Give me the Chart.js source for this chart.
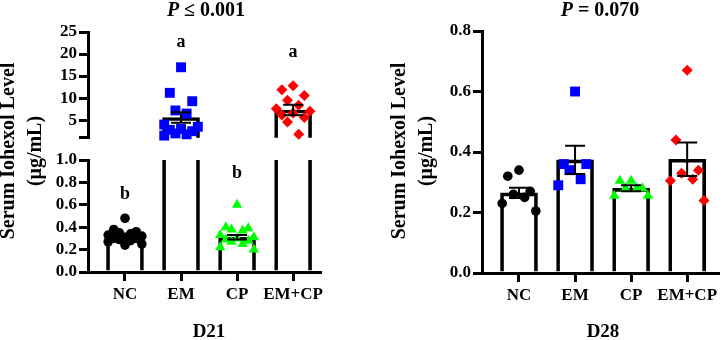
<!DOCTYPE html>
<html>
<head>
<meta charset="utf-8">
<script src="https://cdn.jsdelivr.net/npm/chart.js@4.4.0/dist/chart.umd.min.js"></script>
<style>
body { margin: 0; background: #fff; }
#wrap { position: relative; width: 726px; height: 340px; }
canvas { position: absolute; top: 0; }
</style>
</head>
<body>
<div id="wrap">
  <canvas id="d21Bottom" width="360" height="340" style="left:0"></canvas>
  <canvas id="d21Top" width="360" height="150" style="left:0"></canvas>
  <canvas id="d28" width="366" height="340" style="left:360px"></canvas>
</div>
<script>
const groups = ["NC", "EM", "CP", "EM+CP"];
const groupColors = ["#000000", "#0000ff", "#00ff00", "#ff0000"];
const groupShapes = ["circle", "rect", "triangle", "rectRot"];
const groupRadius = [4.8, 7, 6, 5.5];

// D21 serum iohexol (µg/mL), one value per animal
const d21NC = [0.48, 0.38, 0.36, 0.35, 0.34, 0.33, 0.32, 0.31, 0.30, 0.30, 0.29, 0.28, 0.27, 0.25, 0.24];
const d21EM = [17.0, 11.2, 9.3, 7.2, 6.5, 4.0, 3.5, 3.0, 2.8, 2.5, 2.0, 1.8, 1.5];
const d21CP = [0.60, 0.40, 0.39, 0.38, 0.37, 0.33, 0.31, 0.30, 0.29, 0.28, 0.27, 0.25, 0.22, 0.20];
const d21EMCP = [12.8, 11.9, 10.6, 9.5, 8.4, 7.6, 7.0, 6.6, 6.2, 5.6, 4.6, 1.8];
const d21Means = [0.32, 5.6, 0.31, 7.3];
const d21Sem = [0.015, 1.2, 0.02, 1.2];
const d21Letters = ["b", "a", "b", "a"];
const d21LetterY = [0.69, 22.7, 0.88, 20.3];
const d21TopTicks = [1, 5, 10, 15, 20, 25];
const d21BottomTicks = [0, 0.2, 0.4, 0.6, 0.8, 1.0];

// D28
const d28NC = [0.34, 0.32, 0.27, 0.26, 0.25, 0.23, 0.205];
const d28EM = [0.60, 0.36, 0.36, 0.34, 0.31, 0.29];
const d28CP = [0.305, 0.305, 0.28, 0.28, 0.28, 0.255, 0.255];
const d28EMCP = [0.67, 0.44, 0.34, 0.33, 0.31, 0.305, 0.24];
const d28Means = [0.265, 0.374, 0.28, 0.376];
const d28Sem = [0.017, 0.047, 0.01, 0.055];
const d28Ticks = [0, 0.2, 0.4, 0.6, 0.8];

const serif = "'Liberation Serif', 'Times New Roman', serif";

// side-by-side layout of the dots inside a bar, biggest value in the middle
function spread(values, groupIndex, width) {
    const pattern = [0, -1, 1, -0.5, 0.5, -1.5, 1.5];
    return values.slice().sort((a, b) => b - a)
        .map((v, i) => ({ x: groupIndex + pattern[i % pattern.length] * width, y: v }));
}

function pointSets(series, keep) {
    return series.map((values, i) => ({
        type: "scatter",
        data: spread(values, i, 0.2).filter(p => keep(p.y)),
        pointStyle: groupShapes[i],
        pointRadius: groupRadius[i],
        backgroundColor: groupColors[i],
        borderColor: groupColors[i],
        borderWidth: 0,
        clip: false,
        order: 1
    }));
}

function barSet(means) {
    return {
        type: "bar",
        data: means.map((m, i) => ({ x: i, y: m })),
        backgroundColor: "rgba(0,0,0,0)",
        borderColor: "#000",
        borderWidth: 3,
        barThickness: 37,
        clip: 0,
        order: 2
    };
}

const errorBars = {
    id: "errorBars",
    afterDatasetsDraw(chart, args, opts) {
        const { ctx, chartArea: a, scales: { x, y } } = chart;
        ctx.save();
        ctx.beginPath();
        ctx.rect(a.left, a.top, a.right - a.left, a.bottom - a.top);
        ctx.clip();
        ctx.strokeStyle = "#000";
        ctx.lineWidth = 2;
        opts.means.forEach((m, i) => {
            const px = x.getPixelForValue(i);
            const hi = y.getPixelForValue(m + opts.sem[i]);
            const lo = y.getPixelForValue(m - opts.sem[i]);
            ctx.beginPath();
            ctx.moveTo(px, lo); ctx.lineTo(px, hi);
            ctx.moveTo(px - 10, hi); ctx.lineTo(px + 10, hi);
            ctx.moveTo(px - 10, lo); ctx.lineTo(px + 10, lo);
            ctx.stroke();
        });
        ctx.restore();

        if (!opts.letters) return;
        ctx.save();
        ctx.fillStyle = "#000";
        ctx.font = "bold 18px " + serif;
        ctx.textAlign = "center";
        ctx.textBaseline = "middle";
        opts.letters.forEach((t, i) => {
            const v = opts.letterY[i];
            if (v < y.min || v > y.max) return;
            ctx.fillText(t, x.getPixelForValue(i), y.getPixelForValue(v));
        });
        ctx.restore();
    }
};

// titles and axis captions
const panelText = {
    id: "panelText",
    afterDraw(chart, args, opts) {
        const ctx = chart.ctx;
        (opts.items || []).forEach(item => {
            ctx.save();
            ctx.translate(item.x, item.y);
            if (item.rotate) ctx.rotate(-Math.PI / 2);
            ctx.fillStyle = "#000";
            ctx.textBaseline = "middle";
            const fonts = item.parts.map(p => (p.italic ? "italic " : "") + "bold " + item.size + "px " + serif);
            let total = 0;
            item.parts.forEach((p, i) => { ctx.font = fonts[i]; total += ctx.measureText(p.text).width; });
            let cx = -total / 2;
            item.parts.forEach((p, i) => {
                ctx.font = fonts[i];
                ctx.textAlign = "left";
                ctx.fillText(p.text, cx, 0);
                cx += ctx.measureText(p.text).width;
            });
            ctx.restore();
        });
    }
};

function axes(o) {
    const line = { drawOnChartArea: false, tickLength: 9, lineWidth: 3, color: "#000", offset: false };
    return {
        x: {
            type: "linear",
            offset: false,
            min: o.xMin,
            max: o.xMax,
            display: o.showX,
            afterBuildTicks: s => { s.ticks = groups.map((g, i) => ({ value: i })); },
            afterFit: s => { s.height = o.xHeight; },
            ticks: {
                callback: v => groups[v],
                color: "#000",
                font: { family: serif, size: 17, weight: "bold" },
                padding: 3,
                maxRotation: 0,
                autoSkip: false
            },
            grid: line,
            border: { color: "#000", width: 3 }
        },
        y: {
            type: "linear",
            min: o.yMin,
            max: o.yMax,
            afterBuildTicks: s => { s.ticks = o.yTicks.map(v => ({ value: v })); },
            afterFit: s => { s.width = o.yWidth; },
            ticks: {
                callback: o.fmt,
                color: "#000",
                font: { family: serif, size: 17, weight: "bold" },
                padding: 2,
                autoSkip: false
            },
            grid: line,
            border: { color: "#000", width: 3 }
        }
    };
}

const baseOptions = {
    responsive: false,
    animation: false,
    events: []
};

const d21Series = [d21NC, d21EM, d21CP, d21EMCP];
const d28Series = [d28NC, d28EM, d28CP, d28EMCP];
const yTitle = (x) => [
    { x: x, y: 151, size: 20, rotate: true, parts: [{ text: "Serum Iohexol Level" }] },
    { x: x + 27, y: 151, size: 20, rotate: true, parts: [{ text: "(μg/mL)" }] }
];

// D21 lower segment, 0 - 1
new Chart(document.getElementById("d21Bottom"), {
    data: { datasets: [barSet(d21Means), ...pointSets(d21Series, v => v <= 1)] },
    options: {
        ...baseOptions,
        layout: { padding: { top: 160, right: 40, bottom: 0, left: 0 } },
        scales: axes({
            xMin: -0.66, xMax: 3.48, showX: true, xHeight: 68,
            yMin: 0, yMax: 1, yTicks: d21BottomTicks, yWidth: 88, fmt: v => v.toFixed(1)
        }),
        plugins: {
            legend: { display: false },
            tooltip: { enabled: false },
            errorBars: { means: d21Means, sem: d21Sem, letters: d21Letters, letterY: d21LetterY },
            panelText: { items: [...yTitle(9), { x: 209, y: 332, size: 19, parts: [{ text: "D21" }] }] }
        }
    },
    plugins: [errorBars, panelText]
});

// D21 upper segment, 1 - 25
new Chart(document.getElementById("d21Top"), {
    data: { datasets: [barSet(d21Means), ...pointSets(d21Series, v => v > 1)] },
    options: {
        ...baseOptions,
        layout: { padding: { top: 32, right: 40, bottom: 8, left: 0 } },
        scales: axes({
            xMin: -0.66, xMax: 3.48, showX: false, xHeight: 0,
            yMin: 1, yMax: 25, yTicks: d21TopTicks, yWidth: 88, fmt: v => (v === 1 ? "" : v)
        }),
        plugins: {
            legend: { display: false },
            tooltip: { enabled: false },
            errorBars: { means: d21Means, sem: d21Sem, letters: d21Letters, letterY: d21LetterY },
            panelText: { items: [{ x: 206, y: 11, size: 20, parts: [{ text: "P", italic: true }, { text: " ≤ 0.001" }] }] }
        }
    },
    plugins: [errorBars, panelText]
});

// D28
new Chart(document.getElementById("d28"), {
    data: { datasets: [barSet(d28Means), ...pointSets(d28Series, v => true)] },
    options: {
        ...baseOptions,
        layout: { padding: { top: 31, right: 8, bottom: 0, left: 0 } },
        scales: axes({
            xMin: -0.66, xMax: 3.55, showX: true, xHeight: 67,
            yMin: 0, yMax: 0.8, yTicks: d28Ticks, yWidth: 122, fmt: v => v.toFixed(1)
        }),
        plugins: {
            legend: { display: false },
            tooltip: { enabled: false },
            errorBars: { means: d28Means, sem: d28Sem },
            panelText: {
                items: [
                    ...yTitle(40),
                    { x: 240, y: 11, size: 20, parts: [{ text: "P", italic: true }, { text: " = 0.070" }] },
                    { x: 243, y: 332, size: 19, parts: [{ text: "D28" }] }
                ]
            }
        }
    },
    plugins: [errorBars, panelText]
});
</script>
</body>
</html>
